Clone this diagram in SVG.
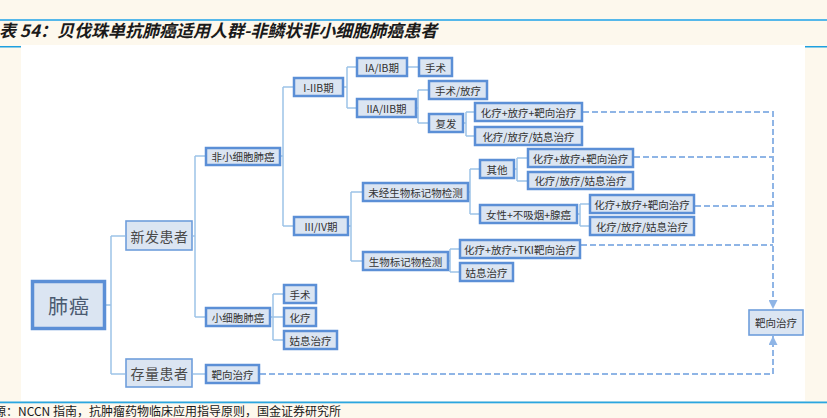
<svg xmlns="http://www.w3.org/2000/svg" width="827" height="418" viewBox="0 0 827 418">
<defs>
<style>
.bg{fill:#fdf8ed}
.box{fill:#dbe5f2;stroke:#5b8fd6;stroke-width:2.5}
.big{fill:#dbe5f2;stroke:#6f9edb;stroke-width:1.6}
.root{fill:#dbe5f2;stroke:#5b8fd6;stroke-width:3.5}
.t{font-family:"Noto Sans CJK SC","Noto Sans",sans-serif;font-size:10.5px;fill:#333333;text-anchor:middle;dominant-baseline:central}
.tb{font-family:"Noto Sans CJK SC","Noto Sans",sans-serif;font-size:14px;fill:#4a4a4a;text-anchor:middle;dominant-baseline:central;letter-spacing:0.5px}
.tr{font-family:"Noto Sans CJK SC","Noto Sans",sans-serif;font-size:20px;fill:#4a5a70;text-anchor:middle;dominant-baseline:central;letter-spacing:1px}
.ln{fill:none;stroke:#9dc3e8;stroke-width:1.5}
.dl{fill:none;stroke:#8fb5e6;stroke-width:2;stroke-dasharray:6 3}
</style>
<marker id="ah" viewBox="0 0 10 10" refX="10" refY="5" markerWidth="9" markerHeight="9" markerUnits="userSpaceOnUse" orient="auto">
<path d="M0,0 L10,5 L0,10 z" fill="#8fb5e6"/>
</marker>
</defs>
<rect class="bg" x="0" y="0" width="827" height="418"/>
<rect x="0" y="19" width="827" height="2" fill="#55b8ea"/>
<text x="-1" y="37" font-family="Noto Sans CJK SC, Noto Sans, sans-serif" font-size="17" font-weight="bold" font-style="italic" fill="#1a1a1a">表 54：贝伐珠单抗肺癌适用人群-非鳞状非小细胞肺癌患者</text>
<rect x="21" y="45" width="784" height="356" fill="#ffffff"/>
<rect x="0" y="46" width="21" height="1.5" fill="#1ea0e0"/>
<rect x="805" y="46" width="22" height="1.5" fill="#1ea0e0"/>
<rect x="0" y="401.5" width="827" height="1.8" fill="#2aa6e0"/>
<text x="-6" y="416" font-family="Noto Sans CJK SC, Noto Sans, sans-serif" font-size="12" fill="#1a1a1a">源：NCCN 指南，抗肿瘤药物临床应用指导原则，国金证券研究所</text>

<g id="connectors">
<path class="ln" d="M106,305 H111 M111,236 V374 M111,236 H125 M111,374 H125"/>
<path class="ln" d="M193,236 H195 M195,156 V317 M195,156 H205 M195,317 H205"/>
<path class="ln" d="M281,156 H283 M283,87 V226 M283,87 H293 M283,226 H293"/>
<path class="ln" d="M344,87 H347 M347,67 V108 M347,67 H356 M347,108 H356"/>
<path class="ln" d="M408,67 H418"/>
<path class="ln" d="M417,108 H418 M418,90 V123 M418,90 H428 M418,123 H428"/>
<path class="ln" d="M464,123 H466 M466,112 V136 M466,112 H474 M466,136 H474"/>
<path class="ln" d="M349,226 H351 M351,192 V261 M351,192 H362 M351,261 H362"/>
<path class="ln" d="M469,192 H470 M470,169 V214 M470,169 H479 M470,214 H479"/>
<path class="ln" d="M515,169 H517 M517,158 V181 M517,158 H527 M517,181 H527"/>
<path class="ln" d="M578,214 H580 M580,204 V226 M580,204 H589 M580,226 H589"/>
<path class="ln" d="M449,261 H450 M450,249 V272 M450,249 H459 M450,272 H459"/>
<path class="ln" d="M271,317 H283 M273,294 V340 M273,294 H283 M273,340 H283"/>
<path class="ln" d="M193,374 H205"/>
<path class="dl" d="M583,112 H773 V309" marker-end="url(#ah)"/>
<path class="dl" d="M634,157 H773"/>
<path class="dl" d="M695,206 H773"/>
<path class="dl" d="M581,245 H773"/>
<path class="dl" d="M260,374 H773 V336" marker-end="url(#ah)"/>
</g>

<g id="n-feiai"><rect class="root" x="32.5" y="281.5" width="72" height="47"/><text class="tr" x="69" y="305">肺癌</text></g>
<g id="n-xinfa"><rect class="big" x="126" y="221" width="66" height="29"/><text class="tb" x="159.5" y="236">新发患者</text></g>
<g id="n-cunliang"><rect class="big" x="126" y="359" width="66" height="28"/><text class="tb" x="159.5" y="373">存量患者</text></g>
<g id="n-fxxb"><rect class="box" x="206" y="148" width="74" height="17"/><text class="t" x="243" y="156.5">非小细胞肺癌</text></g>
<g id="n-i-iib"><rect class="box" x="294" y="78" width="49" height="18"/><text class="t" x="318.5" y="87">I-IIB期</text></g>
<g id="n-iaib"><rect class="box" x="357" y="58" width="50" height="18"/><text class="t" x="382" y="67">IA/IB期</text></g>
<g id="n-ss1"><rect class="box" x="419" y="58" width="33" height="18"/><text class="t" x="435.5" y="67">手术</text></g>
<g id="n-iiaiib"><rect class="box" x="357" y="99" width="59" height="18"/><text class="t" x="386.5" y="108">IIA/IIB期</text></g>
<g id="n-ssfl"><rect class="box" x="429" y="81" width="58" height="18"/><text class="t" x="458" y="90">手术/放疗</text></g>
<g id="n-fufa"><rect class="box" x="429" y="114" width="34" height="18"/><text class="t" x="446" y="123">复发</text></g>
<g id="n-a1"><rect class="box" x="475" y="103" width="107" height="18"/><text class="t" x="528.5" y="112">化疗+放疗+靶向治疗</text></g>
<g id="n-b1"><rect class="box" x="475" y="127" width="107" height="18"/><text class="t" x="528.5" y="136">化疗/放疗/姑息治疗</text></g>
<g id="n-iiiiv"><rect class="box" x="294" y="217" width="54" height="18"/><text class="t" x="321" y="226">III/IV期</text></g>
<g id="n-wj"><rect class="box" x="363" y="183" width="105" height="18"/><text class="t" x="415.5" y="192">未经生物标记物检测</text></g>
<g id="n-qt"><rect class="box" x="480" y="160" width="34" height="18"/><text class="t" x="497" y="169">其他</text></g>
<g id="n-a2"><rect class="box" x="528" y="149" width="105" height="18"/><text class="t" x="580.5" y="158">化疗+放疗+靶向治疗</text></g>
<g id="n-b2"><rect class="box" x="528" y="172" width="105" height="17"/><text class="t" x="580.5" y="180.5">化疗/放疗/姑息治疗</text></g>
<g id="n-nx"><rect class="box" x="480" y="205" width="97" height="18"/><text class="t" x="528.5" y="214">女性+不吸烟+腺癌</text></g>
<g id="n-a3"><rect class="box" x="590" y="195" width="104" height="18"/><text class="t" x="642" y="204">化疗+放疗+靶向治疗</text></g>
<g id="n-b3"><rect class="box" x="590" y="217" width="104" height="18"/><text class="t" x="642" y="226">化疗/放疗/姑息治疗</text></g>
<g id="n-sw"><rect class="box" x="363" y="252" width="85" height="18"/><text class="t" x="405.5" y="261">生物标记物检测</text></g>
<g id="n-tki"><rect class="box" x="460" y="240" width="120" height="18"/><text class="t" x="520" y="249">化疗+放疗+TKI靶向治疗</text></g>
<g id="n-gx"><rect class="box" x="460" y="263" width="53" height="18"/><text class="t" x="486.5" y="272">姑息治疗</text></g>
<g id="n-xxb"><rect class="box" x="206" y="308" width="64" height="18"/><text class="t" x="238" y="317">小细胞肺癌</text></g>
<g id="n-ss2"><rect class="box" x="284" y="285" width="32" height="18"/><text class="t" x="300" y="294">手术</text></g>
<g id="n-hl"><rect class="box" x="284" y="308" width="32" height="18"/><text class="t" x="300" y="317">化疗</text></g>
<g id="n-gx2"><rect class="box" x="284" y="331" width="53" height="18"/><text class="t" x="310.5" y="340">姑息治疗</text></g>
<g id="n-bx1"><rect class="box" x="206" y="365" width="53" height="18"/><text class="t" x="232.5" y="374">靶向治疗</text></g>
<g id="n-bx2"><rect class="big" x="749" y="310" width="54" height="25"/><text class="t" x="776" y="322.5">靶向治疗</text></g>
</svg>
